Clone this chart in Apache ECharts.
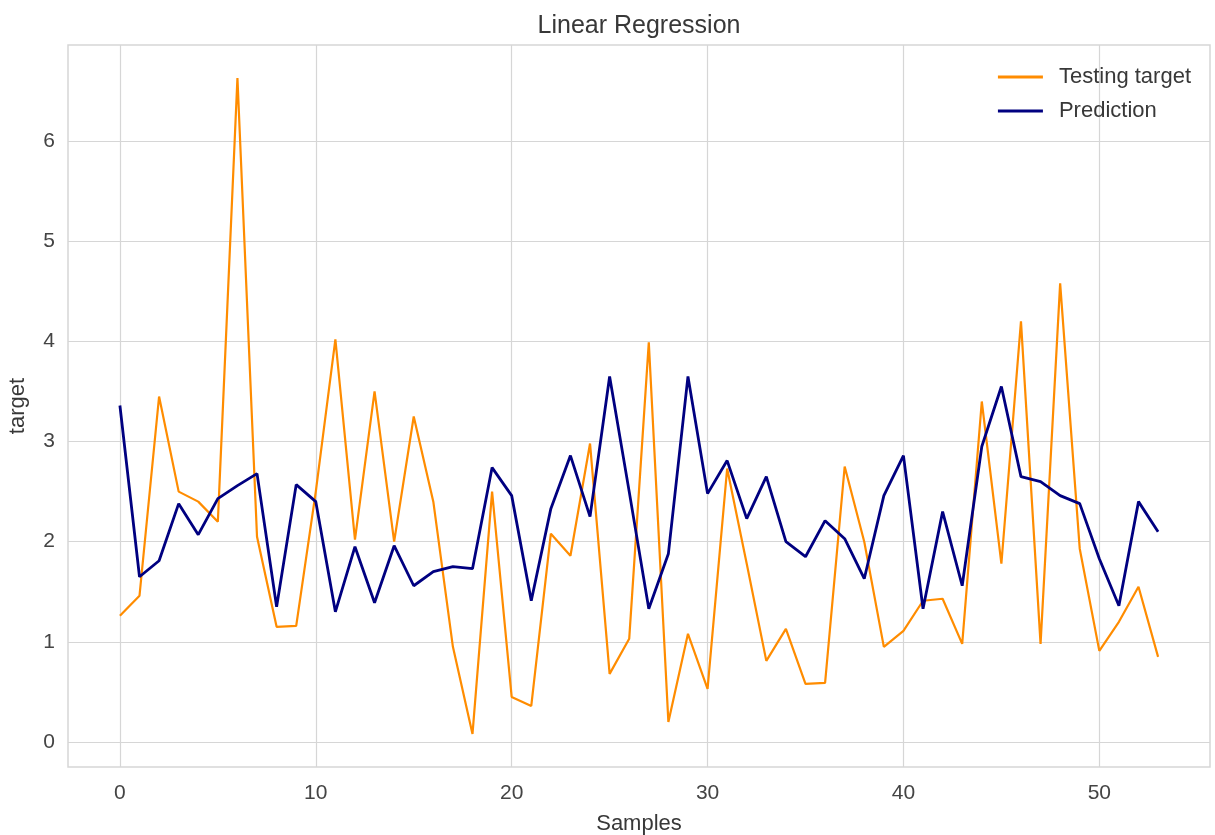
<!DOCTYPE html>
<html>
<head>
<meta charset="utf-8">
<script src="https://cdn.jsdelivr.net/npm/echarts@6/dist/echarts.min.js"></script>
<style>html,body{margin:0;padding:0;background:#fff}#c{width:1215px;height:835px}</style>
</head>
<body>
<div id="c"></div>
<script>
const samples = Array.from({length: 54}, (_, i) => i);
const testingTarget = [1.26,1.46,3.45,2.5,2.4,2.2,6.63,2.05,1.15,1.16,
  2.5,4.02,2.02,3.5,2.0,3.25,2.4,0.95,0.08,2.5,
  0.45,0.36,2.08,1.86,2.98,0.68,1.03,3.99,0.2,1.08,
  0.53,2.73,1.78,0.81,1.13,0.58,0.59,2.75,2.0,0.95,
  1.11,1.41,1.43,0.98,3.4,1.78,4.2,0.98,4.58,1.93,
  0.91,1.2,1.55,0.85];
const prediction = [3.36,1.65,1.81,2.38,2.07,2.43,2.56,2.68,1.35,2.57,
  2.4,1.3,1.95,1.39,1.96,1.56,1.70,1.75,1.73,2.74,
  2.46,1.41,2.33,2.86,2.25,3.65,2.5,1.33,1.88,3.65,
  2.48,2.81,2.23,2.65,2.0,1.85,2.21,2.03,1.63,2.46,
  2.86,1.33,2.3,1.56,2.95,3.55,2.65,2.6,2.46,2.38,
  1.83,1.36,2.4,2.1];
const xTicks = [0, 10, 20, 30, 40, 50];
const yTicks = [0, 1, 2, 3, 4, 5, 6];

const font = "'Liberation Sans', Arial, sans-serif";
const gridColor = '#d6d6d6';
const chart = echarts.init(document.getElementById('c'), null, {renderer: 'canvas'});
chart.setOption({
  animation: false,
  backgroundColor: '#ffffff',
  title: {
    text: 'Linear Regression', left: 639, top: 14, textAlign: 'center', padding: 0,
    textStyle: {fontFamily: font, fontSize: 25, fontWeight: 'normal', color: '#383838', lineHeight: 25}
  },
  legend: {
    orient: 'vertical', right: 24, top: 66, icon: 'rect', padding: 0,
    itemWidth: 45, itemHeight: 3, itemGap: 12,
    textStyle: {fontFamily: font, fontSize: 22, color: '#383838', lineHeight: 22, padding: [0, 0, 0, 11]},
    data: ['Testing target', 'Prediction']
  },
  grid: {left: 68, right: 5, top: 45, bottom: 68, outerBoundsMode: 'none', containLabel: false,
    show: true, borderColor: gridColor, borderWidth: 1.5, backgroundColor: '#fff'},
  xAxis: {
    type: 'value', min: -2.65, max: 55.65,
    name: 'Samples', nameLocation: 'middle', nameGap: 46,
    nameTextStyle: {fontFamily: font, fontSize: 22, color: '#383838'},
    axisLine: {show: false},
    axisTick: {show: false, customValues: xTicks},
    axisLabel: {customValues: xTicks, margin: 16, fontFamily: font, fontSize: 21, color: '#444'},
    splitLine: {show: true, lineStyle: {color: gridColor, width: 1.2}}
  },
  yAxis: {
    type: 'value', min: -0.25, max: 6.96,
    name: 'target', nameLocation: 'middle', nameGap: 39,
    nameTextStyle: {fontFamily: font, fontSize: 22, color: '#383838'},
    axisLine: {show: false},
    axisTick: {show: false, customValues: yTicks},
    axisLabel: {customValues: yTicks, margin: 13, fontFamily: font, fontSize: 21, color: '#444'},
    splitLine: {show: true, lineStyle: {color: gridColor, width: 1.2}}
  },
  series: [
    {
      name: 'Testing target', type: 'line', showSymbol: false, symbol: 'none',
      data: samples.map((x, i) => [x, testingTarget[i]]),
      lineStyle: {color: '#ff8c00', width: 2.2}, itemStyle: {color: '#ff8c00'}, z: 2
    },
    {
      name: 'Prediction', type: 'line', showSymbol: false, symbol: 'none',
      data: samples.map((x, i) => [x, prediction[i]]),
      lineStyle: {color: '#000080', width: 2.8}, itemStyle: {color: '#000080'}, z: 3
    }
  ]
});
</script>
</body>
</html>
